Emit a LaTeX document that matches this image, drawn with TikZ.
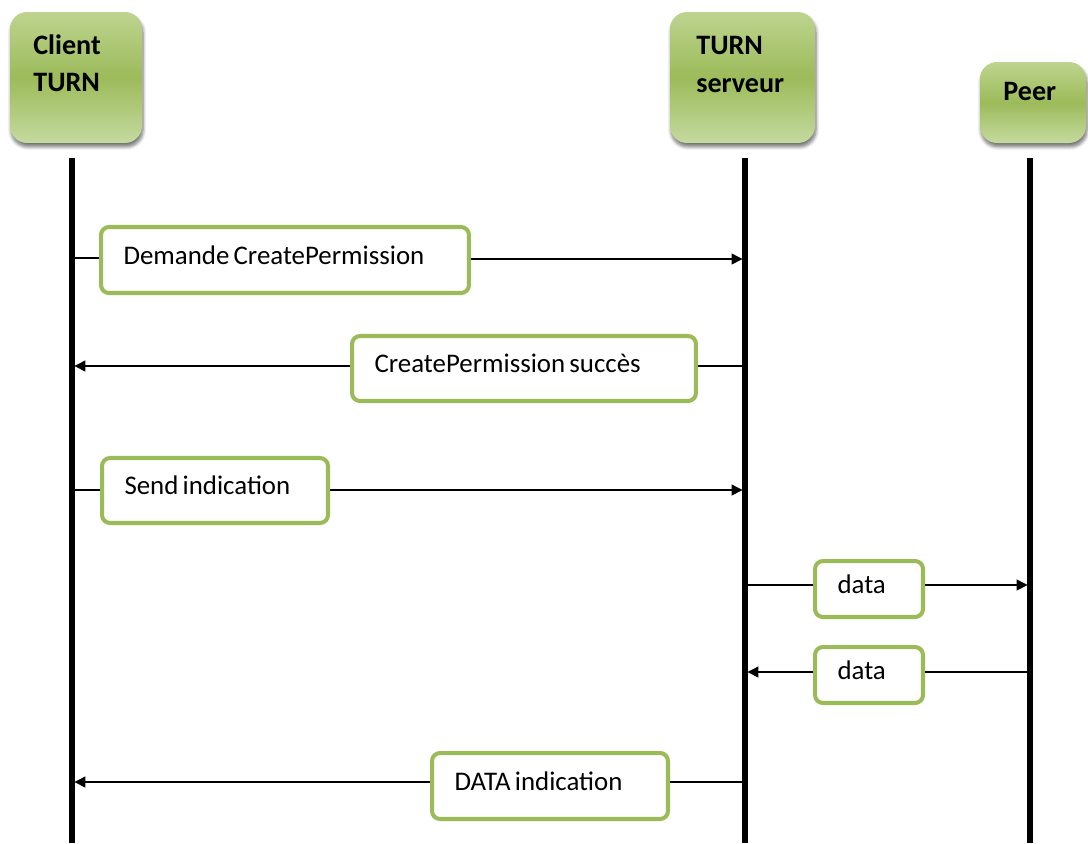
\documentclass[tikz,border=0pt]{standalone}
\usepackage{fontspec}
\setmainfont{Carlito}
\usetikzlibrary{arrows.meta,shadows.blur}
\definecolor{olivegreen}{HTML}{9BBB59}
\definecolor{headtop}{HTML}{BED48F}
\definecolor{headmid}{HTML}{9CBB5A}
\definecolor{headbot}{HTML}{C5DA9F}
% message text: 15pt with narrow word spaces
\DeclareRobustCommand{\msgfont}{\fontsize{15.3}{18}\selectfont}
\DeclareRobustCommand{\tightwords}{\spaceskip=2.4pt plus 0.5pt\relax}
\tikzset{
  header/.style={rounded corners=0.34cm, top color=headtop, bottom color=headbot,
    middle color=headmid, inner sep=0pt,
    blur shadow={shadow xshift=0.6pt, shadow yshift=-2.2pt, shadow blur steps=6, shadow opacity=55}},
  headtext/.style={font=\fontsize{16}{21.5}\selectfont\bfseries, align=left, inner sep=0pt},
  msg/.style={draw=olivegreen, line width=2.3pt, rounded corners=0.16cm, fill=white,
    font=\msgfont, align=left, execute at begin node=\tightwords,
    inner xsep=0.45cm, inner ysep=0pt, text height=0.34cm, text depth=0.18cm},
  lifeline/.style={line width=3.1pt, black},
  link/.style={line width=0.75pt, black},
  msgarrow/.style={link, -{Triangle[length=0.22cm, width=0.22cm]}, shorten >=1.4pt}
}
\begin{document}
\begin{tikzpicture}[x=0.02cm, y=-0.02cm]
\useasboundingbox (0,0) rectangle (1088,843);

% participants
\node[header, minimum width=2.64cm, minimum height=2.62cm] (client) at (76,77.5) {};
\node[headtext, anchor=north west] (clienttxt) at (33,34) {Client\\TURN};
\node[header, minimum width=2.9cm, minimum height=2.62cm] (server) at (742.5,77.5) {};
\node[headtext, anchor=north west] (servertxt) at (696,36) {TURN\\serveur};
\node[header, minimum width=2.12cm, minimum height=1.62cm] (peer) at (1033,102.5) {};
\node[headtext, anchor=base west] (peertxt) at (1003,100) {Peer};

% lifelines
\coordinate (cltop) at (72,158);   \coordinate (clbot) at (72,843);
\coordinate (svtop) at (745,158);  \coordinate (svbot) at (745,843);
\coordinate (prtop) at (1030,158); \coordinate (prbot) at (1030,843);
\draw[lifeline] (cltop) -- (clbot);
\draw[lifeline] (svtop) -- (svbot);
\draw[lifeline] (prtop) -- (prbot);

% messages
\node[msg, text width=6.46cm, minimum height=1.32cm] (m1) at (285,260) {Demande CreatePermission};
\node[msg, text width=5.98cm, minimum height=1.30cm] (m2) at (524,368.5) {CreatePermission succès};
\node[msg, text width=3.62cm, minimum height=1.30cm] (m3) at (215,490.5) {Send indication};
\node[msg, text width=1.26cm, minimum height=1.12cm] (m4) at (869,589) {data};
\node[msg, text width=1.26cm, minimum height=1.12cm] (m5) at (869,675) {data};
\node[msg, text width=3.82cm, minimum height=1.32cm] (m6) at (550,786) {DATA indication};

% attachment points on the lifelines
\coordinate (a1) at (72,258);   \coordinate (b1) at (745,259);
\coordinate (a2) at (745,366);  \coordinate (b2) at (72,366);
\coordinate (a3) at (72,490);   \coordinate (b3) at (745,490);
\coordinate (a4) at (745,585);  \coordinate (b4) at (1030,585);
\coordinate (a5) at (1030,672); \coordinate (b5) at (745,672);
\coordinate (a6) at (745,782);  \coordinate (b6) at (72,782);

% connectors: lifeline -> box, box -> lifeline (horizontal)
\draw[link] (a1) -- (a1 -| m1.west);  \draw[msgarrow] (b1 -| m1.east) -- (b1);
\draw[link] (a2) -- (a2 -| m2.east);  \draw[msgarrow] (b2 -| m2.west) -- (b2);
\draw[link] (a3) -- (a3 -| m3.west);  \draw[msgarrow] (b3 -| m3.east) -- (b3);
\draw[link] (a4) -- (a4 -| m4.west);  \draw[msgarrow] (b4 -| m4.east) -- (b4);
\draw[link] (a5) -- (a5 -| m5.east);  \draw[msgarrow] (b5 -| m5.west) -- (b5);
\draw[link] (a6) -- (a6 -| m6.east);  \draw[msgarrow] (b6 -| m6.west) -- (b6);
\end{tikzpicture}
\end{document}
